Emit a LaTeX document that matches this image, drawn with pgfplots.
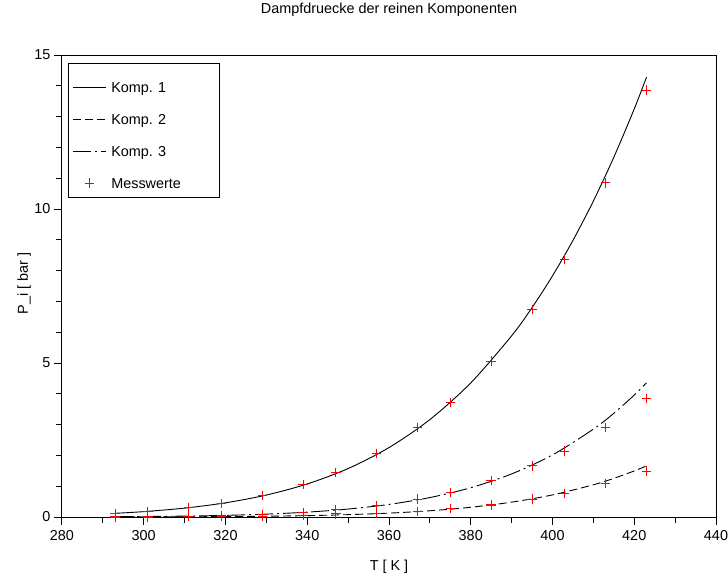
\documentclass[border=0pt]{standalone}
\usepackage{pgfplots}
\pgfplotsset{compat=1.18}
\usepackage{fontspec}
\setmainfont{Liberation Sans}
\newcommand{\fs}{\fontsize{14.4}{17}\selectfont}
\pgfplotsset{plusmarks/.style={only marks, color=red, mark=+, mark size=4.7pt,
  line width=1.1pt, mark options={solid, draw=red}}}
\begin{document}
\begin{tikzpicture}
\begin{axis}[
  scale only axis, width=654pt, height=462pt,
  at={(0,0)}, anchor=south west,
  xmin=280, xmax=440, ymin=0, ymax=15,
  xtick={280,300,...,440}, ytick={0,5,10,15},
  minor x tick num=1, minor y tick num=4,
  tick align=outside, tick pos=left,
  major tick length=8pt, minor tick length=6pt,
  axis line style={line width=1pt},
  every tick/.style={black, line width=1pt},
  /pgf/number format/assume math mode=true,
  tick label style={font=\fs},
  xticklabel style={yshift=-2pt},
  title={Dampfdruecke der reinen Komponenten},
  title style={font=\fs, at={(axis description cs:0.5,1)}, anchor=base, yshift=35.5pt},
  xlabel={T [ K ]},
  xlabel style={font=\fs, at={(axis description cs:0.5,0)}, anchor=base, yshift=-53pt},
  ylabel={P\_i [ bar ]},
  ylabel style={font=\fs, at={(axis description cs:-0.052,0.505)}, anchor=base, rotate=0},
  clip=false,
  legend style={at={(axis description cs:0,1)}, anchor=north west, xshift=6pt, yshift=-8pt,
    draw=black, line width=0.8pt, font=\fs, inner xsep=4pt, inner ysep=4pt,
    row sep=2pt, column sep=3pt,
    nodes={inner sep=2pt, text height=22.7pt, text depth=3.3pt},
    cells={anchor=base west}},
  legend image code/.code={\draw[mark repeat=2,mark phase=2,#1] plot coordinates {(0pt,5pt) (16.5pt,5pt) (33pt,5pt)};},
]
% legend
\addlegendimage{black, line width=0.9pt}
\addlegendentry{Komp. 1}
\addlegendimage{black, line width=0.9pt, dash pattern=on 8pt off 4pt}
\addlegendentry{Komp. 2}
\addlegendimage{black, line width=0.9pt, dash pattern=on 18pt off 4pt on 2pt off 4pt}
\addlegendentry{Komp. 3}
\addlegendimage{plusmarks}
\addlegendentry{Messwerte\hspace*{32pt}}
% Messwerte (drawn below the curves)
\addplot[plusmarks, forget plot] coordinates {
(293,0.12) (301,0.17) (311,0.30) (319,0.44) (329,0.69) (339,1.06) (347,1.44)
(357,2.07) (367,2.90) (375,3.72) (385,5.06) (395,6.74) (403,8.37) (413,10.85) (423,13.86)};
\addplot[plusmarks, forget plot] coordinates {
(293,0.00) (301,0.00) (311,0.01) (319,0.01) (329,0.02) (339,0.04) (347,0.10)
(357,0.12) (367,0.17) (375,0.28) (385,0.39) (395,0.58) (403,0.77) (413,1.09) (423,1.49)};
\addplot[plusmarks, forget plot] coordinates {
(293,0.01) (301,0.01) (311,0.03) (319,0.05) (329,0.09) (339,0.15) (347,0.23)
(357,0.37) (367,0.58) (375,0.80) (385,1.18) (395,1.66) (403,2.14) (413,2.90) (423,3.85)};
% Komp. 1 curve
\addplot[black, line width=0.9pt, smooth, forget plot] coordinates {
(293,0.120) (300,0.1745) (310,0.2885) (320,0.4607) (330,0.713) (340,1.073)
(350,1.573) (360,2.255) (370,3.164) (380,4.354) (390,5.883) (395,6.80) (400,7.830)
(405,8.98) (410,10.26) (415,11.68) (420,13.25) (423,14.28)};
% Komp. 2 curve
\addplot[black, line width=0.9pt, smooth, dash pattern=on 8pt off 4pt, forget plot] coordinates {
(293,0.0021) (300,0.0035) (310,0.0071) (320,0.0137) (330,0.0253) (340,0.0447)
(350,0.0763) (360,0.126) (370,0.202) (380,0.316) (390,0.482) (400,0.717)
(410,1.046) (415,1.255) (420,1.496) (423,1.660)};
% Komp. 3 curve
\addplot[black, line width=0.9pt, smooth, dash pattern=on 18pt off 4pt on 2pt off 4pt, forget plot] coordinates {
(293,0.0095) (300,0.0154) (310,0.0293) (320,0.0534) (330,0.0934) (340,0.158)
(350,0.258) (360,0.409) (370,0.631) (380,0.950) (390,1.399) (400,2.016)
(410,2.852) (415,3.367) (420,3.959) (423,4.358)};
\end{axis}
\pgfresetboundingbox
\path[use as bounding box] (-62pt,-57pt) rectangle (666pt,517pt);
\end{tikzpicture}
\end{document}
